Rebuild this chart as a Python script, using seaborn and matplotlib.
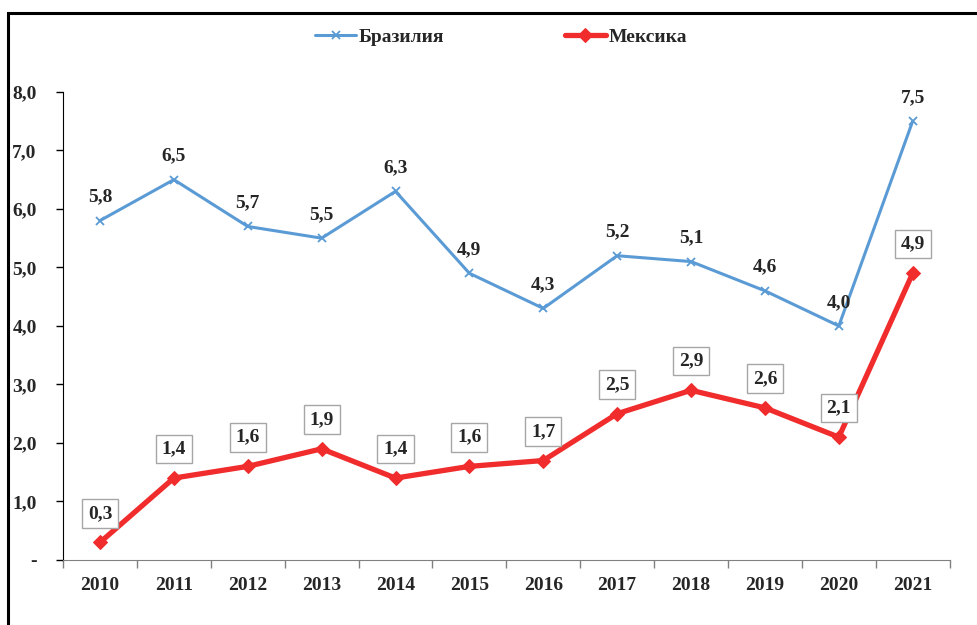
import pandas as pd
import matplotlib.pyplot as plt
import seaborn as sns
from matplotlib.patches import Rectangle

# data
years = [str(y) for y in range(2010, 2022)]
brazil = [5.8, 6.5, 5.7, 5.5, 6.3, 4.9, 4.3, 5.2, 5.1, 4.6, 4.0, 7.5]
mexico = [0.3, 1.4, 1.6, 1.9, 1.4, 1.6, 1.7, 2.5, 2.9, 2.6, 2.1, 4.9]
yticks = [0, 1, 2, 3, 4, 5, 6, 7, 8]
ytick_labels = ['-', '1,0', '2,0', '3,0', '4,0', '5,0', '6,0', '7,0', '8,0']

df = pd.DataFrame({'year': years * 2,
                   'value': brazil + mexico,
                   'country': ['Бразилия'] * 12 + ['Мексика'] * 12})

sns.set_style('white')
plt.rcParams['font.family'] = ['Liberation Serif', 'DejaVu Serif']
plt.rcParams['font.weight'] = 'bold'

fig = plt.figure(figsize=(9.77, 6.25), dpi=100)
ax = fig.add_axes([0.0645, 0.104, 0.9075, 0.749])

blue = '#5B9BD5'
red = '#F02C2C'
sns.lineplot(data=df[df.country == 'Бразилия'], x='year', y='value', ax=ax,
             color=blue, lw=2.2, marker='x', markersize=6, mew=1.3, mec=blue,
             label='Бразилия', sort=False)
sns.lineplot(data=df[df.country == 'Мексика'], x='year', y='value', ax=ax,
             color=red, lw=3.8, marker='D', markersize=7, mec=red,
             label='Мексика', sort=False)

ax.set_xlim(-0.5, 11.5)
ax.set_ylim(0, 8)
ax.set_xlabel('')
ax.set_ylabel('')
ax.set_yticks(yticks)
ax.set_yticklabels(ytick_labels)
ax.set_xticks(range(12))
ax.set_xticklabels(years)
ax.tick_params(axis='x', labelsize=14, length=0, pad=12)
ax.tick_params(axis='y', labelsize=14, left=True, length=5, width=1,
               color='black', direction='out', pad=14)
# x-axis ticks sit between the categories
ax.set_xticks([i - 0.5 for i in range(13)], minor=True)
ax.tick_params(axis='x', which='minor', bottom=True, length=6,
               color='#808080', width=1, direction='out')
for lbl in ax.get_xticklabels() + ax.get_yticklabels():
    lbl.set_fontweight('bold')

for s in ['top', 'right']:
    ax.spines[s].set_visible(False)
ax.spines['left'].set_color('black')
ax.spines['bottom'].set_color('#808080')

for i, v in enumerate(brazil):
    ax.annotate(f'{v:.1f}'.replace('.', ','), (i, v), xytext=(0, 17),
                textcoords='offset points', ha='center', va='center',
                fontsize=14, fontweight='bold')
for i, v in enumerate(mexico):
    ax.annotate(f'{v:.1f}'.replace('.', ','), (i, v), xytext=(0, 21),
                textcoords='offset points', ha='center', va='center',
                fontsize=14, fontweight='bold',
                bbox=dict(boxstyle='square,pad=0.3', fc='white', ec='#a6a6a6', lw=1))

ax.get_legend().remove()
handles, labels = ax.get_legend_handles_labels()
leg = fig.legend(handles, labels, loc='center', bbox_to_anchor=(0.513, 1 - 37 / 625),
                 ncol=2, frameon=False, fontsize=14, handlelength=2.1,
                 columnspacing=6.2, handletextpad=0.15)
for t in leg.get_texts():
    t.set_fontweight('bold')

# frame around the picture, cut off at right and bottom
fig.patches.append(Rectangle((8 / 977, -0.1), 1.2, 1 - 13 / 625 + 0.1,
                             transform=fig.transFigure, fill=False,
                             ec='black', lw=2.2))

fig.savefig('out.png', dpi=100)
